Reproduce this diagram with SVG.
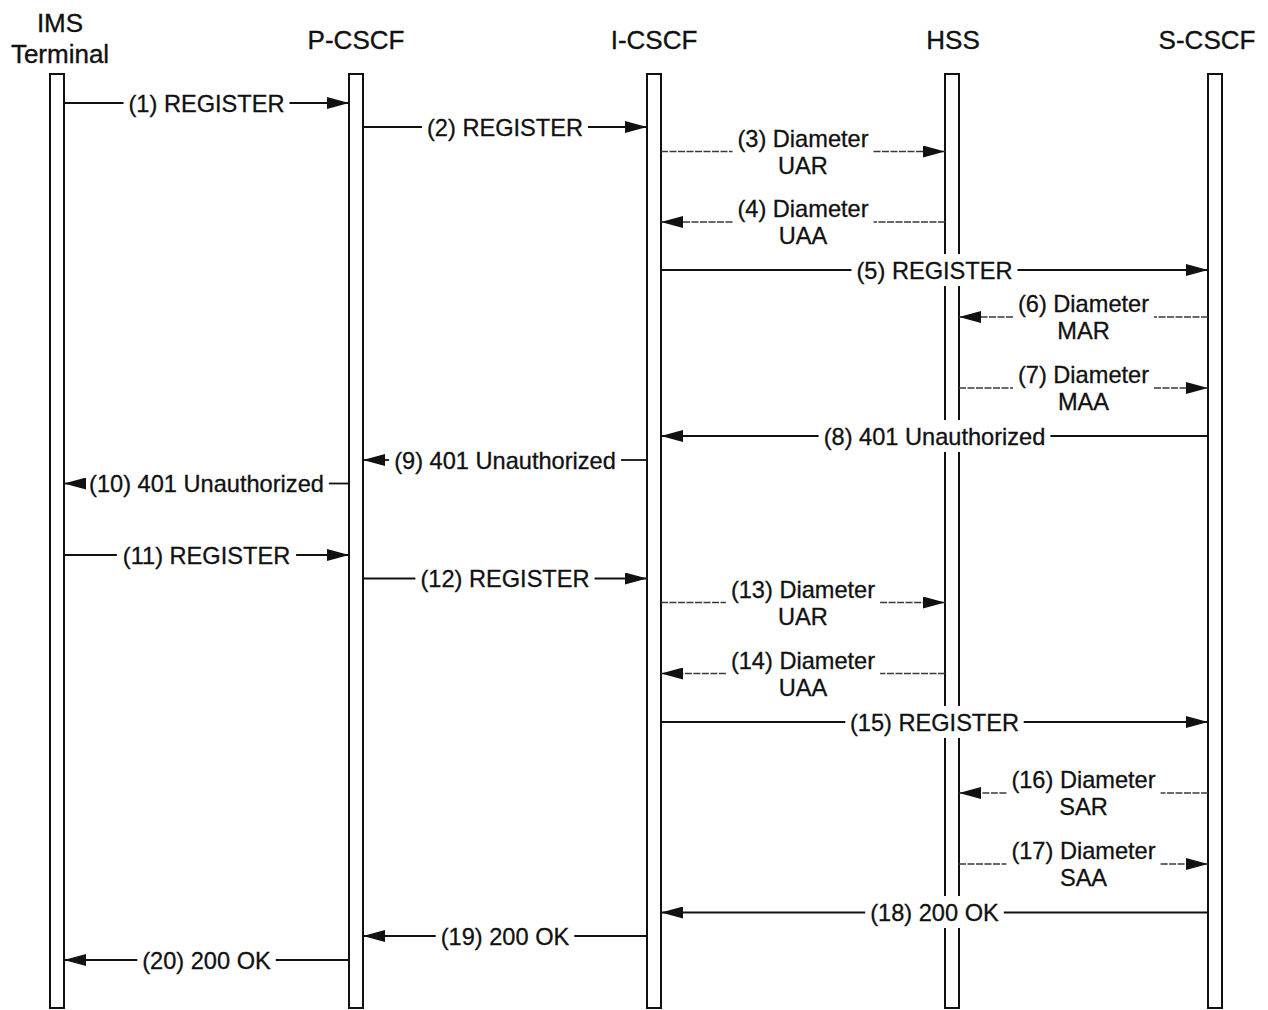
<svg xmlns="http://www.w3.org/2000/svg" width="1268" height="1010" viewBox="0 0 1268 1010">
<style>
.hdr{font-family:"Liberation Sans",Arial,sans-serif;font-size:26px;fill:#111;stroke:#111;stroke-width:0.35;text-anchor:middle}
.lbl{font-family:"Liberation Sans",Arial,sans-serif;font-size:23.6px;fill:#111;stroke:#111;stroke-width:0.3;text-anchor:middle}
.bar{fill:#fff;stroke:#111;stroke-width:2}
.msg{fill:none;stroke:#111;stroke-width:1.8}
.dsh{fill:none;stroke:#3a3a3a;stroke-width:1.7;stroke-dasharray:7 1.5}
.bg{fill:#fff}
</style>
<defs>
<marker id="ah" markerUnits="userSpaceOnUse" markerWidth="22" markerHeight="12" refX="22" refY="6" orient="auto" viewBox="0 0 22 12">
<path d="M0,0 L22,6 L0,12 z" fill="#111"/>
</marker>
</defs>
<rect width="1268" height="1010" fill="#fff"/>
<g id="ims-terminal">
<text class="hdr" x="60" y="32">IMS</text>
<text class="hdr" x="60" y="63">Terminal</text>
<rect class="bar" x="50" y="74" width="14" height="934"/>
</g>
<g id="p-cscf">
<text class="hdr" x="356" y="49">P-CSCF</text>
<rect class="bar" x="349" y="74" width="14" height="934"/>
</g>
<g id="i-cscf">
<text class="hdr" x="654" y="49">I-CSCF</text>
<rect class="bar" x="647" y="74" width="14" height="934"/>
</g>
<g id="hss">
<text class="hdr" x="953" y="49">HSS</text>
<rect class="bar" x="945" y="74" width="14" height="934"/>
</g>
<g id="s-cscf">
<text class="hdr" x="1207" y="49">S-CSCF</text>
<rect class="bar" x="1208" y="74" width="14" height="934"/>
</g>
<g id="connectors">
<!-- 1 -->
<path class="msg" d="M64,103 H123.5"/><path class="msg" d="M289.5,103 H349" marker-end="url(#ah)"/>
<text class="lbl" x="206.5" y="111.5">(1) REGISTER</text>
<!-- 2 -->
<path class="msg" d="M363,127 H422"/><path class="msg" d="M588,127 H647" marker-end="url(#ah)"/>
<text class="lbl" x="505" y="135.5">(2) REGISTER</text>
<!-- 3 -->
<path class="dsh" d="M661,151.5 H732.5"/><path class="dsh" d="M873.5,151.5 H945" marker-end="url(#ah)"/>
<text class="lbl" x="803" y="146.5">(3) Diameter</text><text class="lbl" x="803" y="173.5">UAR</text>
<!-- 4 -->
<path class="dsh" d="M945,222 H873.5"/><path class="dsh" d="M732.5,222 H661" marker-end="url(#ah)"/>
<text class="lbl" x="803" y="217">(4) Diameter</text><text class="lbl" x="803" y="244">UAA</text>
<!-- 5 -->
<path class="msg" d="M661,270 H851.5"/><path class="msg" d="M1017.5,270 H1208" marker-end="url(#ah)"/>
<rect class="bg" x="855" y="254" width="160" height="32"/>
<text class="lbl" x="934.5" y="278.5">(5) REGISTER</text>
<!-- 6 -->
<path class="dsh" d="M1208,317 H1154"/><path class="dsh" d="M1013,317 H959" marker-end="url(#ah)"/>
<text class="lbl" x="1083.5" y="312">(6) Diameter</text><text class="lbl" x="1083.5" y="339">MAR</text>
<!-- 7 -->
<path class="dsh" d="M959,388 H1013"/><path class="dsh" d="M1154,388 H1208" marker-end="url(#ah)"/>
<text class="lbl" x="1083.5" y="383">(7) Diameter</text><text class="lbl" x="1083.5" y="410">MAA</text>
<!-- 8 -->
<path class="msg" d="M1208,436 H1050.4"/><path class="msg" d="M818.6,436 H661" marker-end="url(#ah)"/>
<rect class="bg" x="822" y="420" width="225" height="32"/>
<text class="lbl" x="934.5" y="444.5">(8) 401 Unauthorized</text>
<!-- 9 -->
<path class="msg" d="M647,460 H620.9"/><path class="msg" d="M389.1,460 H363" marker-end="url(#ah)"/>
<text class="lbl" x="505" y="468.5">(9) 401 Unauthorized</text>
<!-- 10 -->
<path class="msg" d="M349,483.5 H328.9"/><path class="msg" d="M84.1,483.5 H64" marker-end="url(#ah)"/>
<text class="lbl" x="206.5" y="492">(10) 401 Unauthorized</text>
<!-- 11 -->
<path class="msg" d="M64,555 H116.9"/><path class="msg" d="M296.1,555 H349" marker-end="url(#ah)"/>
<text class="lbl" x="206.5" y="563.5">(11) REGISTER</text>
<!-- 12 -->
<path class="msg" d="M363,578.5 H415.4"/><path class="msg" d="M594.6,578.5 H647" marker-end="url(#ah)"/>
<text class="lbl" x="505" y="587">(12) REGISTER</text>
<!-- 13 -->
<path class="dsh" d="M661,602.5 H725.9"/><path class="dsh" d="M880.1,602.5 H945" marker-end="url(#ah)"/>
<text class="lbl" x="803" y="597.5">(13) Diameter</text><text class="lbl" x="803" y="624.5">UAR</text>
<!-- 14 -->
<path class="dsh" d="M945,673.5 H880.1"/><path class="dsh" d="M725.9,673.5 H661" marker-end="url(#ah)"/>
<text class="lbl" x="803" y="668.5">(14) Diameter</text><text class="lbl" x="803" y="695.5">UAA</text>
<!-- 15 -->
<path class="msg" d="M661,722 H845.3"/><path class="msg" d="M1023.7,722 H1208" marker-end="url(#ah)"/>
<rect class="bg" x="849" y="706" width="171" height="32"/>
<text class="lbl" x="934.5" y="730.5">(15) REGISTER</text>
<!-- 16 -->
<path class="dsh" d="M1208,793 H1160.6"/><path class="dsh" d="M1006.4,793 H959" marker-end="url(#ah)"/>
<text class="lbl" x="1083.5" y="788">(16) Diameter</text><text class="lbl" x="1083.5" y="815">SAR</text>
<!-- 17 -->
<path class="dsh" d="M959,864 H1006.4"/><path class="dsh" d="M1160.6,864 H1208" marker-end="url(#ah)"/>
<text class="lbl" x="1083.5" y="859">(17) Diameter</text><text class="lbl" x="1083.5" y="886">SAA</text>
<!-- 18 -->
<path class="msg" d="M1208,912.5 H1003.8"/><path class="msg" d="M865.2,912.5 H661" marker-end="url(#ah)"/>
<rect class="bg" x="869" y="896" width="131" height="32"/>
<text class="lbl" x="934.5" y="921">(18) 200 OK</text>
<!-- 19 -->
<path class="msg" d="M647,936 H574.3"/><path class="msg" d="M435.7,936 H363" marker-end="url(#ah)"/>
<text class="lbl" x="505" y="944.5">(19) 200 OK</text>
<!-- 20 -->
<path class="msg" d="M349,960 H275.8"/><path class="msg" d="M137.2,960 H64" marker-end="url(#ah)"/>
<text class="lbl" x="206.5" y="968.5">(20) 200 OK</text>
</g>
</svg>
